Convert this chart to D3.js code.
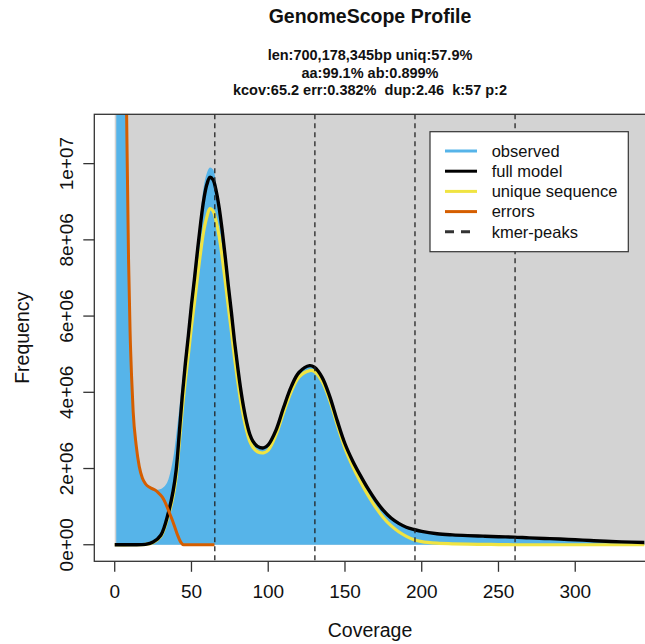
<!DOCTYPE html>
<html>
<head>
<meta charset="utf-8">
<script src="https://cdn.jsdelivr.net/npm/d3@7"></script>
<style>
  body { margin: 0; background: #fff; }
  text { font-family: "Liberation Sans", Arial, Helvetica, sans-serif; fill: #111; }
</style>
</head>
<body>
<script>
// values, frequencies in millions
var obsCov  = [1, 2, 3, 4, 5, 6, 7, 8, 9, 10, 11, 12, 14, 16, 18, 20, 23, 26, 28, 30, 33, 35, 38, 40, 42, 44, 46, 48, 50, 52, 54, 56, 58, 60, 62, 64, 66, 68, 70, 72, 74, 76, 78, 80, 82, 84, 86, 88, 90, 93, 97, 100, 105, 110, 115, 120, 127, 130, 135, 140, 145, 150, 155, 160, 165, 170, 175, 180, 185, 190, 195, 200, 210, 220, 230, 240, 250, 260, 270, 280, 290, 300, 310, 320, 330, 345];
var obsFreq = [120, 60, 38, 27, 20, 15.5, 12.5, 10.6, 7.6, 5.7, 4.5, 3.6, 2.65, 2.08, 1.78, 1.62, 1.52, 1.46, 1.44, 1.46, 1.56, 1.72, 2.25, 2.85, 3.55, 4.3, 5.05, 5.8, 6.55, 7.3, 8.0, 8.7, 9.4, 9.75, 9.9, 9.85, 9.5, 9.0, 8.35, 7.65, 6.9, 6.15, 5.4, 4.75, 4.15, 3.65, 3.25, 2.92, 2.74, 2.6, 2.55, 2.6, 2.98, 3.58, 4.13, 4.5, 4.68, 4.64, 4.38, 3.88, 3.23, 2.63, 2.18, 1.8, 1.45, 1.14, 0.88, 0.68, 0.54, 0.45, 0.38, 0.33, 0.27, 0.24, 0.22, 0.21, 0.2, 0.19, 0.17, 0.155, 0.14, 0.12, 0.1, 0.085, 0.07, 0.06];

var modelCov   = [0, 10, 20, 25, 30, 35, 38, 40, 42, 44, 46, 48, 50, 52, 54, 56, 58, 60, 62, 64, 66, 68, 70, 72, 74, 76, 78, 80, 82, 84, 86, 88, 90, 93, 97, 100, 105, 110, 115, 120, 127, 130, 135, 140, 145, 150, 155, 160, 165, 170, 175, 180, 185, 190, 195, 200, 210, 220, 230, 240, 250, 260, 270, 280, 290, 300, 310, 320, 330, 345];
var fullModel  = [0, 0, 0.01, 0.07, 0.25, 0.85, 1.4, 1.95, 2.9, 3.9, 4.75, 5.5, 6.3, 7.0, 7.75, 8.45, 9.05, 9.45, 9.64, 9.58, 9.3, 8.85, 8.25, 7.55, 6.8, 6.1, 5.35, 4.7, 4.1, 3.6, 3.2, 2.9, 2.72, 2.58, 2.54, 2.62, 3.0, 3.6, 4.15, 4.52, 4.7, 4.66, 4.4, 3.9, 3.25, 2.65, 2.2, 1.82, 1.47, 1.16, 0.9, 0.7, 0.56, 0.46, 0.4, 0.35, 0.29, 0.26, 0.24, 0.225, 0.21, 0.2, 0.18, 0.165, 0.15, 0.13, 0.11, 0.09, 0.075, 0.06];
var uniqueSeq  = [0, 0, 0.01, 0.06, 0.22, 0.78, 1.27, 1.77, 2.64, 3.55, 4.32, 5.0, 5.73, 6.37, 7.05, 7.69, 8.24, 8.6, 8.82, 8.76, 8.5, 8.1, 7.55, 6.92, 6.24, 5.6, 4.92, 4.33, 3.79, 3.34, 2.98, 2.71, 2.56, 2.44, 2.41, 2.48, 2.88, 3.47, 4.02, 4.4, 4.57, 4.55, 4.29, 3.8, 3.14, 2.53, 2.06, 1.66, 1.3, 0.98, 0.71, 0.5, 0.34, 0.22, 0.13, 0.08, 0.04, 0.025, 0.015, 0.01, 0.005, 0, 0, 0, 0, 0, 0, 0, 0, 0];

var errCov  = [1, 3, 5, 7, 8, 9, 10, 11, 12, 14, 16, 18, 20, 23, 26, 28, 31, 33, 35, 37, 39, 41, 43, 45, 50, 55, 60, 65];
var errFreq = [150, 55, 28, 14, 10.5, 7.5, 5.6, 4.4, 3.5, 2.6, 2.05, 1.75, 1.6, 1.5, 1.44, 1.38, 1.25, 1.1, 0.9, 0.7, 0.48, 0.25, 0.07, 0, 0, 0, 0, 0];

var peakCov = [65.2, 130.4, 195.6, 260.8];

var xTicks = [0, 50, 100, 150, 200, 250, 300];
var yTicks = [0, 2, 4, 6, 8, 10];
var yTickLabels = ["0e+00", "2e+06", "4e+06", "6e+06", "8e+06", "1e+07"];

var titleText = "GenomeScope Profile";
var subtitleLines = ["len:700,178,345bp uniq:57.9%", "aa:99.1% ab:0.899%", "kcov:65.2 err:0.382%  dup:2.46  k:57 p:2"];
var legendLabels = ["observed", "full model", "unique sequence", "errors", "kmer-peaks"];
var legendColors = ["#56B4E9", "#000000", "#F0E442", "#D55E00", "#333333"];

var xMax = 332.6, yMax = 10.86;
var W = 645, H = 644;
var box = {left: 94.3, right: 645.7, top: 114.3, bottom: 561.3};

var svg = d3.select("body").append("svg").attr("width", W).attr("height", H);

var x = d3.scaleLinear().domain([-0.04 * xMax, 1.04 * xMax]).range([box.left, box.right]);
var y = d3.scaleLinear().domain([-0.04 * yMax, 1.04 * yMax]).range([box.bottom, box.top]);

svg.append("clipPath").attr("id", "plotclip").append("rect")
  .attr("x", box.left).attr("y", box.top)
  .attr("width", box.right - box.left).attr("height", box.bottom - box.top);

var g = svg.append("g").attr("clip-path", "url(#plotclip)");

// grey background from (0,0) upward
g.append("rect")
  .attr("x", x(0)).attr("y", y(yMax * 1.1))
  .attr("width", x(xMax * 1.1) - x(0)).attr("height", y(0) - y(yMax * 1.1))
  .attr("fill", "#d3d3d3");

var obs = obsCov.map(function (c, i) { return [c, obsFreq[i]]; });
g.append("path").datum(obs)
  .attr("d", d3.area().curve(d3.curveCatmullRom.alpha(0.5))
    .x(function (d) { return x(d[0]); })
    .y0(y(0))
    .y1(function (d) { return y(Math.max(0, d[1])); }))
  .attr("fill", "#56B4E9");

var smooth = d3.line().curve(d3.curveCatmullRom.alpha(0.5))
  .x(function (d) { return x(d[0]); })
  .y(function (d) { return y(d[1]); });
var mono = d3.line().curve(d3.curveMonotoneX)
  .x(function (d) { return x(d[0]); })
  .y(function (d) { return y(d[1]); });

g.append("path").datum(modelCov.map(function (c, i) { return [c, uniqueSeq[i]]; }))
  .attr("d", smooth).attr("fill", "none").attr("stroke", "#F0E442").attr("stroke-width", 3.2);

g.append("path").datum(modelCov.map(function (c, i) { return [c, fullModel[i]]; }))
  .attr("d", smooth).attr("fill", "none").attr("stroke", "#000").attr("stroke-width", 3.4);

g.append("path").datum(errCov.map(function (c, i) { return [c, errFreq[i]]; }))
  .attr("d", mono).attr("fill", "none").attr("stroke", "#D55E00").attr("stroke-width", 3);

g.selectAll(".peak").data(peakCov).enter().append("line")
  .attr("class", "peak")
  .attr("x1", function (d) { return x(d); }).attr("x2", function (d) { return x(d); })
  .attr("y1", box.top).attr("y2", box.bottom)
  .attr("stroke", "#222").attr("stroke-width", 1.3).attr("stroke-dasharray", "5,4");

// box
svg.append("rect")
  .attr("x", box.left).attr("y", box.top)
  .attr("width", box.right - box.left).attr("height", box.bottom - box.top)
  .attr("fill", "none").attr("stroke", "#333").attr("stroke-width", 1.3);

// axes
svg.selectAll(".xt").data(xTicks).enter().append("line")
  .attr("x1", function (d) { return x(d); }).attr("x2", function (d) { return x(d); })
  .attr("y1", box.bottom).attr("y2", box.bottom + 10.5)
  .attr("stroke", "#333").attr("stroke-width", 1.3);
svg.selectAll(".xl").data(xTicks).enter().append("text")
  .attr("x", function (d) { return x(d); }).attr("y", 598)
  .attr("text-anchor", "middle").attr("font-size", 19)
  .text(function (d) { return d; });

svg.selectAll(".yt").data(yTicks).enter().append("line")
  .attr("x1", box.left - 11).attr("x2", box.left)
  .attr("y1", function (d) { return y(d); }).attr("y2", function (d) { return y(d); })
  .attr("stroke", "#333").attr("stroke-width", 1.3);
svg.selectAll(".yl").data(yTicks).enter().append("text")
  .attr("transform", function (d) { return "translate(73," + y(d) + ") rotate(-90)"; })
  .attr("text-anchor", "middle").attr("font-size", 19)
  .text(function (d, i) { return yTickLabels[i]; });

svg.append("text").attr("x", 370).attr("y", 637)
  .attr("text-anchor", "middle").attr("font-size", 19.5).text("Coverage");
svg.append("text")
  .attr("transform", "translate(29," + (box.top + box.bottom) / 2 + ") rotate(-90)")
  .attr("text-anchor", "middle").attr("font-size", 19.5).text("Frequency");

// titles
svg.append("text").attr("x", 370).attr("y", 23)
  .attr("text-anchor", "middle").attr("font-size", 19.5).attr("font-weight", "bold")
  .text(titleText);
svg.selectAll(".sub").data(subtitleLines).enter().append("text")
  .attr("x", 370).attr("y", function (d, i) { return 60.4 + i * 17.5; })
  .attr("text-anchor", "middle").attr("font-size", 14.5).attr("font-weight", "bold")
  .style("white-space", "pre")
  .text(function (d) { return d; });

// legend
var lg = svg.append("g");
lg.append("rect").attr("x", 430).attr("y", 131.7).attr("width", 198.3).attr("height", 120)
  .attr("fill", "#fff").attr("stroke", "#333").attr("stroke-width", 1.2);
legendLabels.forEach(function (lab, i) {
  var ry = 151 + i * 20.2;
  lg.append("line").attr("x1", 445).attr("x2", 477).attr("y1", ry).attr("y2", ry)
    .attr("stroke", legendColors[i]).attr("stroke-width", 3)
    .attr("stroke-dasharray", i === 4 ? "9,7" : null);
  lg.append("text").attr("x", 491.7).attr("y", ry + 5.8)
    .attr("font-size", 16.5).text(lab);
});
</script>
</body>
</html>
